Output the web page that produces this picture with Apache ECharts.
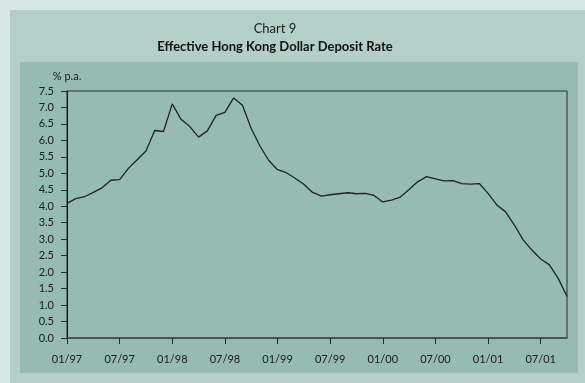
<!DOCTYPE html>
<html>
<head>
<meta charset="utf-8">
<style>
  html, body { margin: 0; padding: 0; background: #d6e6e2; }
  #frame { position: absolute; left: 10px; top: 10px; width: 575px; height: 373px; background: #b3cfc7; }
  #panel { position: absolute; left: 20px; top: 62px; width: 558px; height: 311px; background: #96bbb1; }
  #chart { position: absolute; left: 0; top: 0; width: 585px; height: 383px; }
</style>
<script src="https://cdn.jsdelivr.net/npm/echarts@6/dist/echarts.min.js"></script>
</head>
<body>
<div id="frame"></div>
<div id="panel"></div>
<div id="chart"></div>
<script>
// Monthly series: January 1997 to October 2001
const startYear = 1997;
const monthCount = 58;
const months = [];
for (let i = 0; i < monthCount; i++) {
  const m = i % 12 + 1;
  const y = (startYear + Math.floor(i / 12)) % 100;
  months.push((m < 10 ? '0' : '') + m + '/' + (y < 10 ? '0' : '') + y);
}

// Effective Hong Kong dollar deposit rate, % p.a.
const depositRate = [
  4.09, 4.23, 4.29, 4.42, 4.56, 4.79, 4.81, 5.15, 5.41, 5.68, 6.30, 6.27,
  7.11, 6.64, 6.42, 6.10, 6.29, 6.76, 6.85, 7.29, 7.07, 6.36, 5.83, 5.39,
  5.11, 5.02, 4.85, 4.67, 4.42, 4.31, 4.35, 4.38, 4.41, 4.38, 4.39, 4.33,
  4.13, 4.19, 4.28, 4.51, 4.75, 4.90, 4.83, 4.77, 4.78, 4.69, 4.67, 4.69,
  4.39, 4.04, 3.83, 3.43, 2.98, 2.67, 2.40, 2.22, 1.81, 1.26
];

const tickLabels = ['01/97', '07/97', '01/98', '07/98', '01/99', '07/99', '01/00', '07/00', '01/01', '07/01'];

const font = 'Lato, "Open Sans", sans-serif';
const chart = echarts.init(document.getElementById('chart'));
chart.setOption({
  animation: false,
  title: [
    { text: 'Chart 9', left: 270, top: 17, textAlign: 'center',
      textStyle: { fontFamily: font, fontSize: 13, fontWeight: 'normal', color: '#1a1a1a' } },
    { text: 'Effective Hong Kong Dollar Deposit Rate', left: 270, top: 35, textAlign: 'center',
      textStyle: { fontFamily: font, fontSize: 13, fontWeight: 'bold', color: '#111' } }
  ],
  grid: {
    left: 67, top: 91, width: 500, height: 247,
    show: true, borderColor: '#2a2a2a', borderWidth: 1, backgroundColor: 'transparent'
  },
  xAxis: {
    type: 'category',
    data: months,
    boundaryGap: false,
    axisLine: { lineStyle: { color: '#4a4a4a', width: 1.5 } },
    axisTick: { interval: 5, length: 6, lineStyle: { color: '#2a2a2a' } },
    axisLabel: {
      interval: 5, margin: 16,
      fontFamily: font, fontSize: 11, color: '#1a1a1a',
      formatter: v => tickLabels.includes(v) ? v : ''
    },
    splitLine: { show: false }
  },
  yAxis: {
    type: 'value',
    min: 0, max: 7.5, interval: 0.5,
    name: '% p.a.', nameLocation: 'end', nameGap: 9,
    nameTextStyle: { fontFamily: font, fontSize: 11, color: '#1a1a1a', align: 'center' },
    axisLine: { show: true, lineStyle: { color: '#111', width: 1 } },
    axisTick: { show: true, length: 6, lineStyle: { color: '#2a2a2a' } },
    axisLabel: { margin: 13, fontFamily: font, fontSize: 11, color: '#1a1a1a', formatter: v => v.toFixed(1) },
    splitLine: { show: false }
  },
  series: [{
    type: 'line',
    data: depositRate,
    symbol: 'none',
    lineStyle: { color: '#222', width: 1.3 }
  }]
});
</script>
</body>
</html>
